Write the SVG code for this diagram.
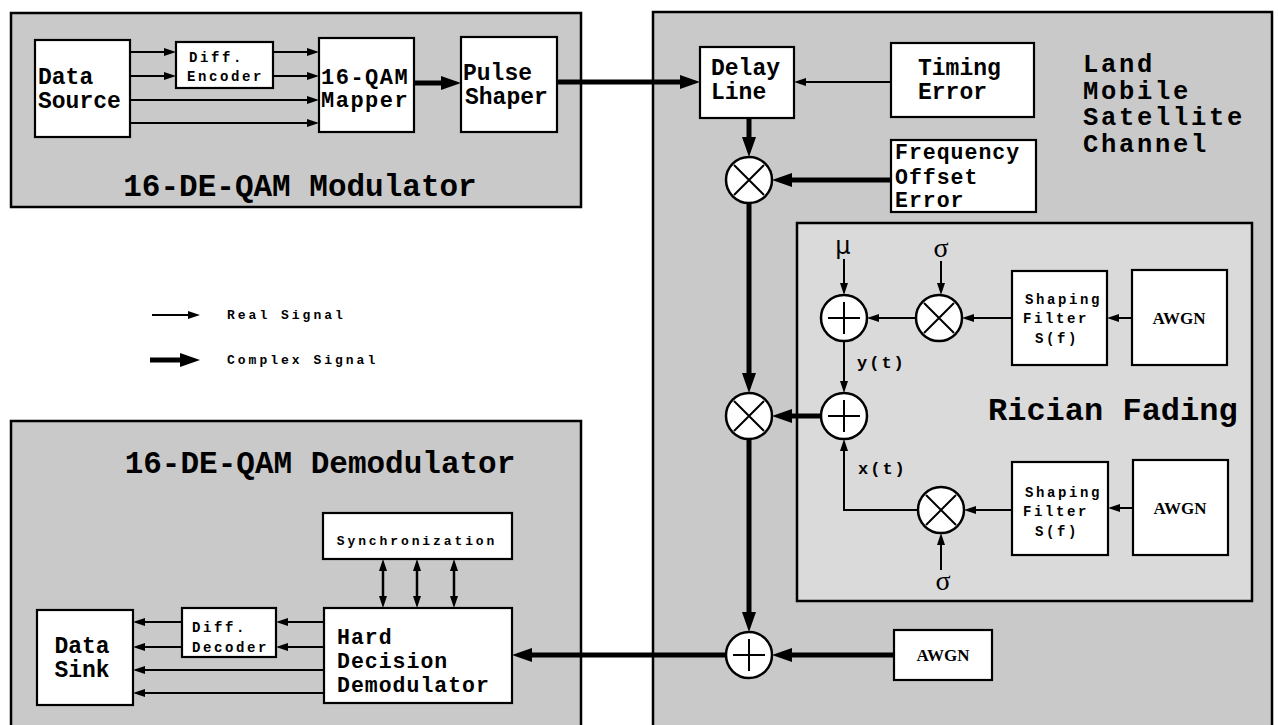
<svg xmlns="http://www.w3.org/2000/svg" width="1278" height="725" viewBox="0 0 1278 725">
<defs>
<style>
.panel{fill:#c9c9c9;stroke:#000;stroke-width:2.5}
.inner{fill:#dadada;stroke:#000;stroke-width:2.5}
.box{fill:#fff;stroke:#000;stroke-width:2.2}
.op{fill:#fff;stroke:#000;stroke-width:2.5}
.sym{stroke:#000;stroke-width:2;fill:none}
.m{font-family:"Liberation Mono","DejaVu Sans Mono",monospace;font-weight:bold;fill:#000}
.big{font-size:31px}
.ttl{font-size:25.5px;letter-spacing:2.7px}
.rf{font-size:32px}
.mid{font-size:23px}
.mid2{font-size:21.5px;letter-spacing:1px}
.qam{font-size:22px;letter-spacing:1.5px}
.sm{font-size:14px;letter-spacing:2.6px}
.lg{font-size:13px;letter-spacing:3px}
.yt{font-size:17px;letter-spacing:2px}
.serif{font-family:"Liberation Serif",serif;font-weight:bold;fill:#000}
.greek{font-family:"DejaVu Sans",sans-serif;fill:#000}
.thin{stroke:#000;stroke-width:2;fill:none;marker-end:url(#ah)}
.thick{stroke:#000;stroke-width:5;fill:none;marker-end:url(#AH)}
.both{stroke-width:2.5;marker-start:url(#ah)}
</style>
<marker id="ah" viewBox="0 0 12 8" refX="6" refY="4" markerWidth="12" markerHeight="8" markerUnits="userSpaceOnUse" orient="auto-start-reverse"><path d="M0,0 L12,4 L0,8 z" fill="#000"/></marker>
<marker id="AH" viewBox="0 0 20 14" refX="10" refY="7" markerWidth="20" markerHeight="14" markerUnits="userSpaceOnUse" orient="auto"><path d="M0,0 L20,7 L0,14 z" fill="#000"/></marker>
</defs>
<rect width="1278" height="725" fill="#fff"/>

<!-- panels -->
<g id="modulator-panel">
<rect class="panel" x="11" y="13" width="570" height="194"/>
<text class="m big" x="300" y="196" text-anchor="middle">16-DE-QAM Modulator</text>
</g>
<g id="demodulator-panel">
<rect class="panel" x="11" y="421" width="570" height="320"/>
<text class="m big" x="320" y="473" text-anchor="middle">16-DE-QAM Demodulator</text>
</g>
<g id="channel-panel">
<rect class="panel" x="653" y="12" width="619" height="730"/>
<text class="m ttl" x="1083" y="72">Land</text>
<text class="m ttl" x="1083" y="98.5">Mobile</text>
<text class="m ttl" x="1083" y="125">Satellite</text>
<text class="m ttl" x="1083" y="151.5">Channel</text>
</g>
<g id="rician-panel">
<rect class="inner" x="797" y="223" width="455" height="378"/>
<text class="m rf" x="988" y="420">Rician Fading</text>
</g>

<!-- modulator nodes -->
<g id="data-source">
<rect class="box" x="35" y="40" width="95" height="97"/>
<text class="m mid" x="38" y="84">Data</text>
<text class="m mid" x="38" y="108">Source</text>
</g>
<g id="diff-encoder">
<rect class="box" x="176" y="42" width="97" height="46"/>
<text class="m sm" x="189" y="62">Diff.</text>
<text class="m sm" x="187" y="81">Encoder</text>
</g>
<g id="mapper">
<rect class="box" x="319" y="38" width="95" height="94"/>
<text class="m qam" x="321" y="84">16-QAM</text>
<text class="m qam" x="321" y="107">Mapper</text>
</g>
<g id="pulse-shaper">
<rect class="box" x="461" y="37" width="96" height="95"/>
<text class="m mid" x="463" y="80">Pulse</text>
<text class="m mid" x="465" y="104">Shaper</text>
</g>

<!-- legend -->
<g id="legend">
<text class="m lg" x="227" y="319">Real Signal</text>
<text class="m lg" x="227" y="364">Complex Signal</text>
</g>

<!-- channel nodes -->
<g id="delay-line">
<rect class="box" x="700" y="47" width="94" height="71"/>
<text class="m mid" x="711" y="75">Delay</text>
<text class="m mid" x="711" y="99">Line</text>
</g>
<g id="timing-error">
<rect class="box" x="891" y="43" width="143" height="74"/>
<text class="m mid" x="918" y="75">Timing</text>
<text class="m mid" x="918" y="99">Error</text>
</g>
<g id="freq-offset">
<rect class="box" x="891" y="140" width="145" height="72"/>
<text class="m mid2" x="895" y="159">Frequency</text>
<text class="m mid2" x="895" y="184">Offset</text>
<text class="m mid2" x="895" y="207">Error</text>
</g>
<g id="mult1">
<circle class="op" cx="749" cy="180" r="23"/>
<path class="sym" d="M734,165 L764,195 M764,165 L734,195"/>
</g>
<g id="mult2">
<circle class="op" cx="749" cy="416" r="23"/>
<path class="sym" d="M734,401 L764,431 M764,401 L734,431"/>
</g>
<g id="sum-main">
<circle class="op" cx="749" cy="655" r="23"/>
<path class="sym" d="M733,655 H765 M749,639 V671"/>
</g>
<g id="awgn-main">
<rect class="box" x="894" y="630" width="98" height="50"/>
<text class="serif" x="943" y="661" font-size="17" text-anchor="middle">AWGN</text>
</g>

<!-- rician nodes -->
<g id="mu"><text class="greek" x="843" y="254" font-size="24" text-anchor="middle">μ</text></g>
<g id="sigma-up"><text class="serif" x="941" y="257" font-size="28" text-anchor="middle" style="font-weight:normal">σ</text></g>
<g id="sigma-low"><text class="serif" x="943" y="590" font-size="28" text-anchor="middle" style="font-weight:normal">σ</text></g>
<g id="sum-up">
<circle class="op" cx="844" cy="318" r="23"/>
<path class="sym" d="M828,318 H860 M844,302 V334"/>
</g>
<g id="mult-up">
<circle class="op" cx="939" cy="318" r="23"/>
<path class="sym" d="M924,303 L954,333 M954,303 L924,333"/>
</g>
<g id="sum-low">
<circle class="op" cx="844" cy="416" r="23"/>
<path class="sym" d="M828,416 H860 M844,400 V432"/>
</g>
<g id="mult-low">
<circle class="op" cx="941" cy="510" r="23"/>
<path class="sym" d="M926,495 L956,525 M956,495 L926,525"/>
</g>
<g id="shaping-up">
<rect class="box" x="1012" y="271" width="95" height="94"/>
<text class="m sm" x="1025" y="304">Shaping</text>
<text class="m sm" x="1023" y="323">Filter</text>
<text class="m sm" x="1035" y="343">S(f)</text>
</g>
<g id="awgn-up">
<rect class="box" x="1132" y="270" width="95" height="95"/>
<text class="serif" x="1179" y="324" font-size="17" text-anchor="middle">AWGN</text>
</g>
<g id="shaping-low">
<rect class="box" x="1012" y="462" width="96" height="93"/>
<text class="m sm" x="1025" y="497">Shaping</text>
<text class="m sm" x="1023" y="516">Filter</text>
<text class="m sm" x="1035" y="536">S(f)</text>
</g>
<g id="awgn-low">
<rect class="box" x="1133" y="460" width="95" height="95"/>
<text class="serif" x="1180" y="514" font-size="17" text-anchor="middle">AWGN</text>
</g>
<g id="labels-xy">
<text class="m yt" x="857" y="368">y(t)</text>
<text class="m yt" x="858" y="474">x(t)</text>
</g>

<!-- demodulator nodes -->
<g id="synchronization">
<rect class="box" x="323" y="513" width="189" height="46"/>
<text class="m lg" x="417" y="545" text-anchor="middle" style="letter-spacing:2.9px">Synchronization</text>
</g>
<g id="hard-decision">
<rect class="box" x="324" y="608" width="188" height="95"/>
<text class="m mid2" x="337" y="644">Hard</text>
<text class="m mid2" x="337" y="668">Decision</text>
<text class="m mid2" x="337" y="692">Demodulator</text>
</g>
<g id="data-sink">
<rect class="box" x="37" y="610" width="96" height="95"/>
<text class="m mid" x="82" y="653" text-anchor="middle">Data</text>
<text class="m mid" x="82" y="677" text-anchor="middle">Sink</text>
</g>
<g id="diff-decoder">
<rect class="box" x="182" y="608" width="94" height="49"/>
<text class="m sm" x="192" y="632">Diff.</text>
<text class="m sm" x="192" y="652">Decoder</text>
</g>

<!-- connectors -->
<g id="connectors">
<path class="thin" d="M130,52 H170"/>
<path class="thin" d="M130,76 H170"/>
<path class="thin" d="M273,52 H313"/>
<path class="thin" d="M273,76 H313"/>
<path class="thin" d="M130,100 H313"/>
<path class="thin" d="M130,123 H313"/>
<path class="thick" d="M414,83 H451"/>
<path class="thick" d="M557,82 H690"/>
<path class="thin" d="M891,82 H800"/>
<path class="thick" d="M749,118 V147"/>
<path class="thick" d="M891,180 H782"/>
<path class="thick" d="M749,203 V383"/>
<path class="thick" d="M821,416 H782"/>
<path class="thick" d="M749,439 V622"/>
<path class="thick" d="M894,655 H782"/>
<path class="thick" d="M726,655 H522"/>
<path class="thin" d="M844,259 V289"/>
<path class="thin" d="M941,261 V289"/>
<path class="thin" d="M1132,318 H1113"/>
<path class="thin" d="M1012,318 H968"/>
<path class="thin" d="M916,318 H873"/>
<path class="thin" d="M844,341 V387"/>
<path class="thin" d="M1133,508 H1114"/>
<path class="thin" d="M1012,510 H970"/>
<path class="thin" d="M918,510 H844 V445"/>
<path class="thin" d="M941,570 V539"/>
<path class="thin" d="M324,622 H282"/>
<path class="thin" d="M324,647 H282"/>
<path class="thin" d="M182,622 H139"/>
<path class="thin" d="M182,647 H139"/>
<path class="thin" d="M324,670 H139"/>
<path class="thin" d="M324,693 H139"/>
<path class="thin both" d="M383,565 V602"/>
<path class="thin both" d="M417,565 V602"/>
<path class="thin both" d="M454,565 V602"/>
<path class="thin" d="M152,315 H194"/>
<path class="thick" d="M150,360 H190"/>
</g>
</svg>
